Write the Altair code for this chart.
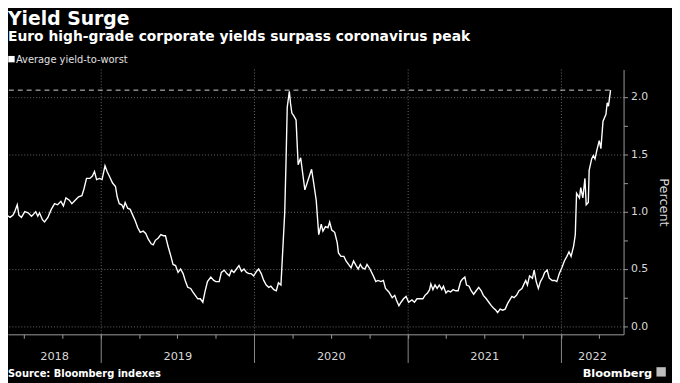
import altair as alt
import pandas as pd

# ---------------- data ----------------
series_start = "2018-05-05"
days_since_start = [
    0, 8, 16, 24, 31, 35, 41, 45, 51, 59,
    67, 75, 78, 85, 90, 94, 101, 106, 114, 122,
    130, 137, 145, 151, 157, 165, 171, 179, 187, 195,
    200, 206, 214, 220, 225, 230, 237, 243, 250, 255,
    263, 268, 275, 279, 284, 290, 294, 298, 304, 310,
    316, 322, 328, 334, 341, 347, 353, 360, 365, 370,
    377, 383, 389, 394, 400, 407, 412, 418, 424, 430,
    436, 441, 447, 454, 459, 465, 471, 477, 483, 488,
    494, 502, 509, 514, 522, 527, 534, 540, 546, 551,
    557, 563, 569, 575, 581, 587, 593, 598, 604, 611,
    616, 622, 628, 634, 640, 645, 652, 658, 663, 669,
    673, 678, 681, 684, 689, 692, 695, 699, 705, 710,
    716, 722, 726, 734, 742, 747, 753, 759, 765, 769,
    775, 781, 785, 790, 797, 803, 806, 812, 819, 824,
    830, 836, 842, 848, 853, 858, 863, 869, 874, 881,
    889, 895, 900, 907, 913, 918, 926, 934, 940, 944,
    950, 955, 961, 967, 973, 981, 987, 993, 1001, 1007,
    1012, 1018, 1023, 1026, 1031, 1036, 1041, 1046, 1052, 1056,
    1062, 1067, 1073, 1079, 1085, 1091, 1097, 1101, 1107, 1111,
    1117, 1122, 1128, 1134, 1140, 1146, 1151, 1158, 1164, 1170,
    1175, 1181, 1185, 1191, 1197, 1203, 1209, 1214, 1219, 1224,
    1230, 1236, 1243, 1248, 1252, 1256, 1261, 1268, 1272, 1277,
    1282, 1287, 1293, 1297, 1303, 1308, 1315, 1321, 1326, 1332,
    1338, 1344, 1350, 1355, 1360, 1366, 1370, 1373, 1380, 1383,
    1388, 1393, 1396, 1401, 1403, 1409, 1413, 1417, 1421, 1427,
    1431, 1436, 1443, 1446, 1449, 1454,
]
yield_to_worst = [
    0.90, 0.92, 0.97, 0.95, 0.97, 1.00, 1.06, 0.97, 0.95, 1.00,
    0.99, 0.96, 0.97, 1.00, 0.96, 0.99, 0.93, 0.91, 0.95, 1.02,
    1.07, 1.06, 1.09, 1.05, 1.12, 1.10, 1.07, 1.10, 1.13, 1.14,
    1.20, 1.29, 1.29, 1.31, 1.35, 1.28, 1.29, 1.28, 1.40, 1.35,
    1.29, 1.25, 1.22, 1.13, 1.07, 1.06, 1.03, 1.08, 1.03, 1.02,
    0.97, 0.92, 0.86, 0.82, 0.83, 0.81, 0.76, 0.72, 0.71, 0.75,
    0.77, 0.80, 0.79, 0.79, 0.70, 0.61, 0.54, 0.53, 0.47, 0.50,
    0.46, 0.40, 0.34, 0.33, 0.30, 0.27, 0.24, 0.24, 0.21, 0.30,
    0.39, 0.43, 0.40, 0.39, 0.39, 0.47, 0.49, 0.46, 0.44, 0.49,
    0.47, 0.50, 0.53, 0.48, 0.50, 0.47, 0.46, 0.46, 0.44, 0.48,
    0.50, 0.46, 0.40, 0.36, 0.34, 0.35, 0.32, 0.31, 0.38, 0.36,
    0.64, 0.99, 1.42, 1.91, 2.05, 1.94, 1.86, 1.84, 1.80, 1.41,
    1.47, 1.30, 1.19, 1.28, 1.37, 1.25, 1.10, 0.80, 0.89, 0.83,
    0.87, 0.86, 0.91, 0.84, 0.82, 0.73, 0.64, 0.61, 0.61, 0.57,
    0.54, 0.51, 0.57, 0.53, 0.50, 0.54, 0.51, 0.50, 0.54, 0.50,
    0.44, 0.39, 0.40, 0.39, 0.40, 0.33, 0.30, 0.25, 0.27, 0.23,
    0.18, 0.21, 0.24, 0.26, 0.21, 0.23, 0.21, 0.24, 0.24, 0.24,
    0.27, 0.29, 0.32, 0.37, 0.32, 0.36, 0.33, 0.36, 0.32, 0.35,
    0.29, 0.31, 0.30, 0.32, 0.31, 0.31, 0.39, 0.41, 0.43, 0.36,
    0.35, 0.31, 0.28, 0.31, 0.34, 0.31, 0.27, 0.24, 0.21, 0.18,
    0.16, 0.14, 0.12, 0.15, 0.14, 0.15, 0.20, 0.23, 0.26, 0.25,
    0.27, 0.31, 0.33, 0.37, 0.40, 0.36, 0.44, 0.42, 0.49, 0.39,
    0.33, 0.39, 0.43, 0.47, 0.49, 0.42, 0.40, 0.40, 0.39, 0.46,
    0.51, 0.57, 0.61, 0.65, 0.61, 0.70, 0.80, 1.16, 1.12, 1.21,
    1.12, 1.29, 1.06, 1.08, 1.36, 1.46, 1.49, 1.46, 1.53, 1.62,
    1.55, 1.79, 1.85, 1.95, 1.92, 2.06,
]

x_domain_start = "2018-05-24"
x_domain_end = "2022-05-29"
year_boundaries = ["2019-01-01", "2020-01-01", "2021-01-01", "2022-01-01"]
year_labels = ["2018", "2019", "2020", "2021", "2022"]
quarter_ticks = [
    "2018-07-01", "2018-10-01", "2019-01-01", "2019-04-01", "2019-07-01",
    "2019-10-01", "2020-01-01", "2020-04-01", "2020-07-01", "2020-10-01",
    "2021-01-01", "2021-04-01", "2021-07-01", "2021-10-01", "2022-01-01",
    "2022-04-01",
]
y_ticks = [0, 0.25, 0.5, 0.75, 1.0, 1.25, 1.5, 1.75, 2.0]

title_text = "Yield Surge"
subtitle_text = "Euro high-grade corporate yields surpass coronavirus peak"
legend_text = "Average yield-to-worst"
source_text = "Source: Bloomberg indexes"
brand_text = "Bloomberg"
y_title = "Percent"

FONT = "DejaVu Sans"
W, H = 623, 268

# ---------------- tables ----------------
dates = pd.Timestamp(series_start) + pd.to_timedelta(days_since_start, unit="D")
df = pd.DataFrame({"date": dates, "yield": yield_to_worst})

years_df = pd.DataFrame({"date": pd.to_datetime(year_boundaries)})

bounds = [pd.Timestamp(x_domain_start)] + list(pd.to_datetime(year_boundaries)) + [pd.Timestamp(x_domain_end)]
mids = [a + (b - a) / 2 for a, b in zip(bounds[:-1], bounds[1:])]
year_df = pd.DataFrame({"date": mids, "label": year_labels})

peak_df = pd.DataFrame({
    "date": [df["date"].min()],
    "end": [df["date"].max()],
    "yield": [max(yield_to_worst)],
})


def dt(s):
    y, m, d = (int(p) for p in s.split("-"))
    return alt.DateTime(year=y, month=m, date=d)


x_scale = alt.Scale(domain=[dt(x_domain_start), dt(x_domain_end)])
y_scale = alt.Scale(domain=[-0.07, 2.24], nice=False, zero=False)

x_axis = alt.Axis(
    values=[dt(s) for s in quarter_ticks], labels=False, tickSize=4,
    tickColor="#9a9a9a", domainColor="#9a9a9a", grid=False, title=None,
)
y_axis = alt.Axis(
    orient="right", values=y_ticks,
    labelExpr="(datum.value * 4) % 2 == 0 ? format(datum.value, '.1f') : ''",
    grid=True, gridColor="#6a6a6a", gridDash=[1, 2], gridWidth=1,
    gridOpacity={"condition": {"test": "(datum.value * 4) % 2 == 0", "value": 1}, "value": 0},
    tickColor="#9a9a9a", tickSize=4, domainColor="#9a9a9a",
    labelColor="#d8d8d8", labelFont=FONT, labelFontSize=11, labelPadding=3,
    title=y_title, titleColor="#d8d8d8", titleFont=FONT, titleFontSize=13,
    titleFontWeight="normal", titlePadding=9,
)

X = alt.X("date:T", scale=x_scale, axis=x_axis)
Y = alt.Y("yield:Q", scale=y_scale, axis=y_axis)

# ---------------- layers ----------------
vgrid = alt.Chart(years_df).mark_rule(color="#6a6a6a", strokeDash=[1, 2], strokeWidth=1).encode(
    x=X,
)
separators = alt.Chart(years_df).mark_rule(color="#8a8a8a", strokeWidth=1).encode(
    x=X,
    y=alt.value(H),
    y2=alt.value(H + 29),
)
peak_rule = alt.Chart(peak_df).mark_rule(color="#d0d0d0", strokeDash=[5, 4], strokeWidth=1, clip=True).encode(
    x=X,
    x2="end:T",
    y=Y,
)
line = alt.Chart(df).mark_line(color="white", strokeWidth=1.4, clip=True).encode(
    x=X,
    y=Y,
)
year_text = alt.Chart(year_df).mark_text(
    font=FONT, fontSize=11.5, color="#d8d8d8", align="center", baseline="alphabetic"
).encode(
    x=X,
    y=alt.value(H + 26),
    text="label:N",
)


def label(text, x, y, size, weight="normal", color="white", align="left"):
    return alt.Chart(pd.DataFrame({"t": [text]})).mark_text(
        font=FONT, fontSize=size, fontWeight=weight, color=color,
        align=align, baseline="alphabetic",
    ).encode(x=alt.value(x), y=alt.value(y), text="t:N")


title = label(title_text, 0, -45, 19, "bold")
subtitle = label(subtitle_text, 0, -29, 14, "bold")
legend_sq = alt.Chart(pd.DataFrame({"k": [1]})).mark_square(size=42, color="white", opacity=1).encode(
    x=alt.value(3.5), y=alt.value(-10.5)
)
legend_lbl = label(legend_text, 8, -7, 10, "normal", "#e0e0e0")
source = label(source_text, 0, H + 43, 10, "bold")
brand = label(brand_text, 652, H + 43, 11.5, "bold", "white", "right")
brand_icon = alt.Chart(pd.DataFrame({"k": [1]})).mark_square(size=90, color="#bdbdbd", opacity=1).encode(
    x=alt.value(661), y=alt.value(H + 38)
)

chart = alt.layer(
    vgrid, separators, peak_rule, line, year_text,
    title, subtitle, legend_sq, legend_lbl, source, brand, brand_icon,
).properties(
    width=W, height=H,
    autosize=alt.AutoSizeParams(type="none"),
    padding={"left": 0, "top": 60, "right": 49, "bottom": 47},
    background="black",
).configure_view(stroke=None)

chart.save("out.html", embed_options={"renderer": "svg", "actions": False})
